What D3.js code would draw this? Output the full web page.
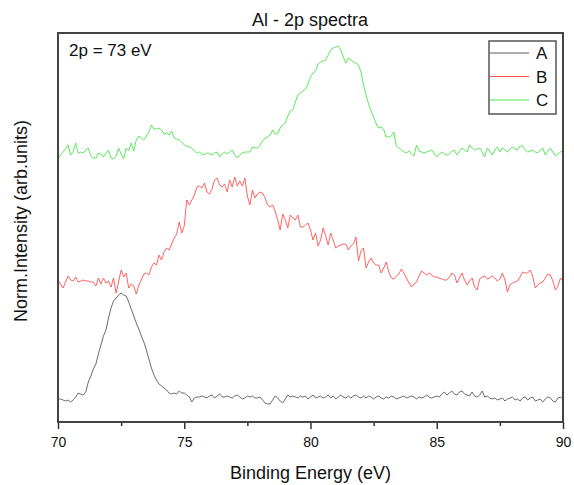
<!DOCTYPE html>
<html>
<head>
<meta charset="utf-8">
<script src="https://cdn.jsdelivr.net/npm/d3@7/dist/d3.min.js"></script>
<style>
  body { margin: 0; background: #fff; }
  svg { font-family: "Liberation Sans", Arial, sans-serif; }
</style>
</head>
<body>
<div id="chart"></div>
<script>
// spectra sampled every 0.1 eV from 70 to 90 eV (values in arb. units, offset stacked)
const eStart = 70, eStep = 0.1;

const seriesA = [
  23,23,22,21,22,20,22,25,29,28,
  27,30,40,46,53,58,68,77,86,92,
  104,114,121,124,127,129,127,126,120,113,
  106,99,93,86,80,72,63,54,47,42,
  38,36,34,32,29,28,29,28,31,29,
  29,27,25,20,24,25,25,26,25,24,
  26,27,24,26,28,25,25,26,25,24,
  26,27,25,23,24,26,25,26,24,24,
  25,22,19,18,18,22,26,24,21,19,
  23,27,25,26,25,24,26,25,26,23,
  25,27,24,25,26,24,25,27,24,26,
  23,25,27,25,24,26,24,26,27,25,
  24,26,24,26,25,23,25,26,24,23,
  25,24,26,25,23,24,25,26,24,25,
  26,25,23,25,24,25,27,25,24,25,
  26,25,28,30,27,29,31,28,27,30,
  31,28,27,26,30,26,25,27,31,25,
  26,24,23,24,22,23,24,21,23,24,
  25,22,23,21,24,25,22,24,25,21,
  22,23,20,23,25,24,21,20,24,25,
  23
];

const seriesB = [
  142,138,134,140,146,142,141,145,140,141,
  142,141,141,140,140,136,144,138,144,139,
  141,135,144,129,140,152,145,149,134,138,
  136,128,137,142,148,149,147,155,159,157,
  167,162,170,174,172,178,184,188,200,189,
  196,222,217,222,227,235,236,234,239,230,
  228,233,242,244,237,235,238,230,242,235,
  245,236,241,236,244,226,217,232,224,228,
  230,229,224,217,215,217,211,202,192,208,
  202,194,207,204,202,207,195,195,197,199,
  192,182,189,176,182,194,186,177,189,182,
  174,176,177,178,178,172,176,178,185,161,
  171,174,154,160,164,159,157,157,149,154,
  160,150,144,143,146,148,153,149,144,139,
  135,138,140,146,151,149,147,149,147,145,
  145,144,143,142,142,145,149,147,139,144,
  149,142,137,141,144,135,132,143,145,146,
  143,144,146,144,141,143,149,142,130,137,
  139,140,141,145,150,149,149,152,146,134,
  137,139,140,144,148,147,141,132,136,144,
  141
];

const seriesC = [
  263,267,270,273,277,267,270,279,269,270,
  269,272,274,266,264,264,269,268,265,269,
  272,264,263,266,274,268,263,274,271,279,
  271,282,286,284,282,286,290,297,293,293,
  294,292,288,289,287,291,284,283,282,280,
  277,276,275,274,271,269,270,268,267,269,
  268,267,269,270,265,268,270,268,270,272,
  267,264,267,269,270,270,270,275,274,274,
  277,281,284,285,287,292,288,288,294,297,
  299,306,311,312,320,327,329,331,333,338,
  345,349,351,358,360,361,362,367,372,374,
  375,376,372,365,359,364,362,360,359,357,
  350,337,327,318,311,305,298,294,295,292,
  285,285,286,290,276,274,272,270,269,271,
  268,266,277,271,270,269,270,271,272,268,
  265,268,270,268,267,268,271,272,267,271,
  274,272,270,277,274,272,273,274,270,265,
  274,271,267,272,275,270,274,272,270,273,
  275,273,272,276,276,272,270,271,272,270,
  269,272,274,267,271,274,270,266,268,270,
  271
];

const seriesNames = ["A", "B", "C"];
const seriesColors = ["#5a5a5a", "#ff5050", "#4ae64a"];
const majorTicks = [70, 75, 80, 85, 90];
const minorTicks = [72.5, 77.5, 82.5, 87.5];

const width = 574, height = 485;
const margin = { top: 33, right: 11, bottom: 63, left: 58 };
const plotW = width - margin.left - margin.right;
const plotH = height - margin.top - margin.bottom;

const svg = d3.select("#chart")
  .append("svg")
  .attr("width", width)
  .attr("height", height);

const x = d3.scaleLinear().domain([70, 90]).range([margin.left, margin.left + plotW]);
const y = d3.scaleLinear().domain([0, 389]).range([margin.top + plotH, margin.top]);

svg.append("clipPath").attr("id", "plot-clip")
  .append("rect")
  .attr("x", margin.left).attr("y", margin.top)
  .attr("width", plotW).attr("height", plotH);

const line = d3.line()
  .x((d, i) => x(eStart + i * eStep))
  .y(d => y(d));

const allSeries = [seriesA, seriesB, seriesC];

svg.append("g").attr("clip-path", "url(#plot-clip)")
  .selectAll("path.spec")
  .data(allSeries)
  .join("path")
    .attr("class", "spec")
    .attr("d", line)
    .attr("fill", "none")
    .attr("stroke", (d, i) => seriesColors[i])
    .attr("stroke-width", 0.9)
    .attr("stroke-linejoin", "round");

// x axis: major + minor ticks
const axisY = margin.top + plotH;
const xAxis = svg.append("g")
  .attr("transform", `translate(0,${axisY})`)
  .call(d3.axisBottom(x).tickValues(majorTicks).tickSize(7).tickPadding(8).tickFormat(d3.format("d")));
xAxis.select(".domain").remove();
xAxis.selectAll("line").attr("stroke", "#333").attr("stroke-width", 1.5);
xAxis.selectAll("text")
  .attr("font-size", 14)
  .attr("fill", "#111")
  .attr("font-family", "Liberation Sans, Arial, sans-serif");

const xMinor = svg.append("g")
  .attr("transform", `translate(0,${axisY})`)
  .call(d3.axisBottom(x).tickValues(minorTicks).tickSize(4).tickFormat(""));
xMinor.select(".domain").remove();
xMinor.selectAll("line").attr("stroke", "#333").attr("stroke-width", 1.5);

// frame
svg.append("rect")
  .attr("x", margin.left).attr("y", margin.top)
  .attr("width", plotW).attr("height", plotH)
  .attr("fill", "none")
  .attr("stroke", "#444")
  .attr("stroke-width", 2);

// titles
svg.append("text")
  .attr("x", 310).attr("y", 26)
  .attr("text-anchor", "middle")
  .attr("font-size", 18)
  .attr("fill", "#111")
  .text("Al - 2p spectra");

svg.append("text")
  .attr("x", margin.left + plotW / 2).attr("y", 479)
  .attr("text-anchor", "middle")
  .attr("font-size", 18)
  .attr("fill", "#111")
  .text("Binding Energy (eV)");

svg.append("text")
  .attr("transform", "translate(27,221) rotate(-90)")
  .attr("text-anchor", "middle")
  .attr("font-size", 18)
  .attr("fill", "#111")
  .text("Norm.Intensity (arb.units)");

svg.append("text")
  .attr("x", 69).attr("y", 56)
  .attr("font-size", 17)
  .attr("fill", "#111")
  .text("2p = 73 eV");

// legend
const legend = svg.append("g");
legend.append("rect")
  .attr("x", 489).attr("y", 41)
  .attr("width", 67).attr("height", 73)
  .attr("fill", "#fff")
  .attr("stroke", "#555")
  .attr("stroke-width", 1.5);

seriesNames.forEach((name, i) => {
  const ly = 53 + i * 23.5;
  legend.append("line")
    .attr("x1", 490).attr("x2", 529)
    .attr("y1", ly).attr("y2", ly)
    .attr("stroke", seriesColors[i])
    .attr("stroke-width", 1);
  legend.append("text")
    .attr("x", 536).attr("y", ly + 6)
    .attr("font-size", 17)
    .attr("fill", "#111")
    .text(name);
});
</script>
</body>
</html>
